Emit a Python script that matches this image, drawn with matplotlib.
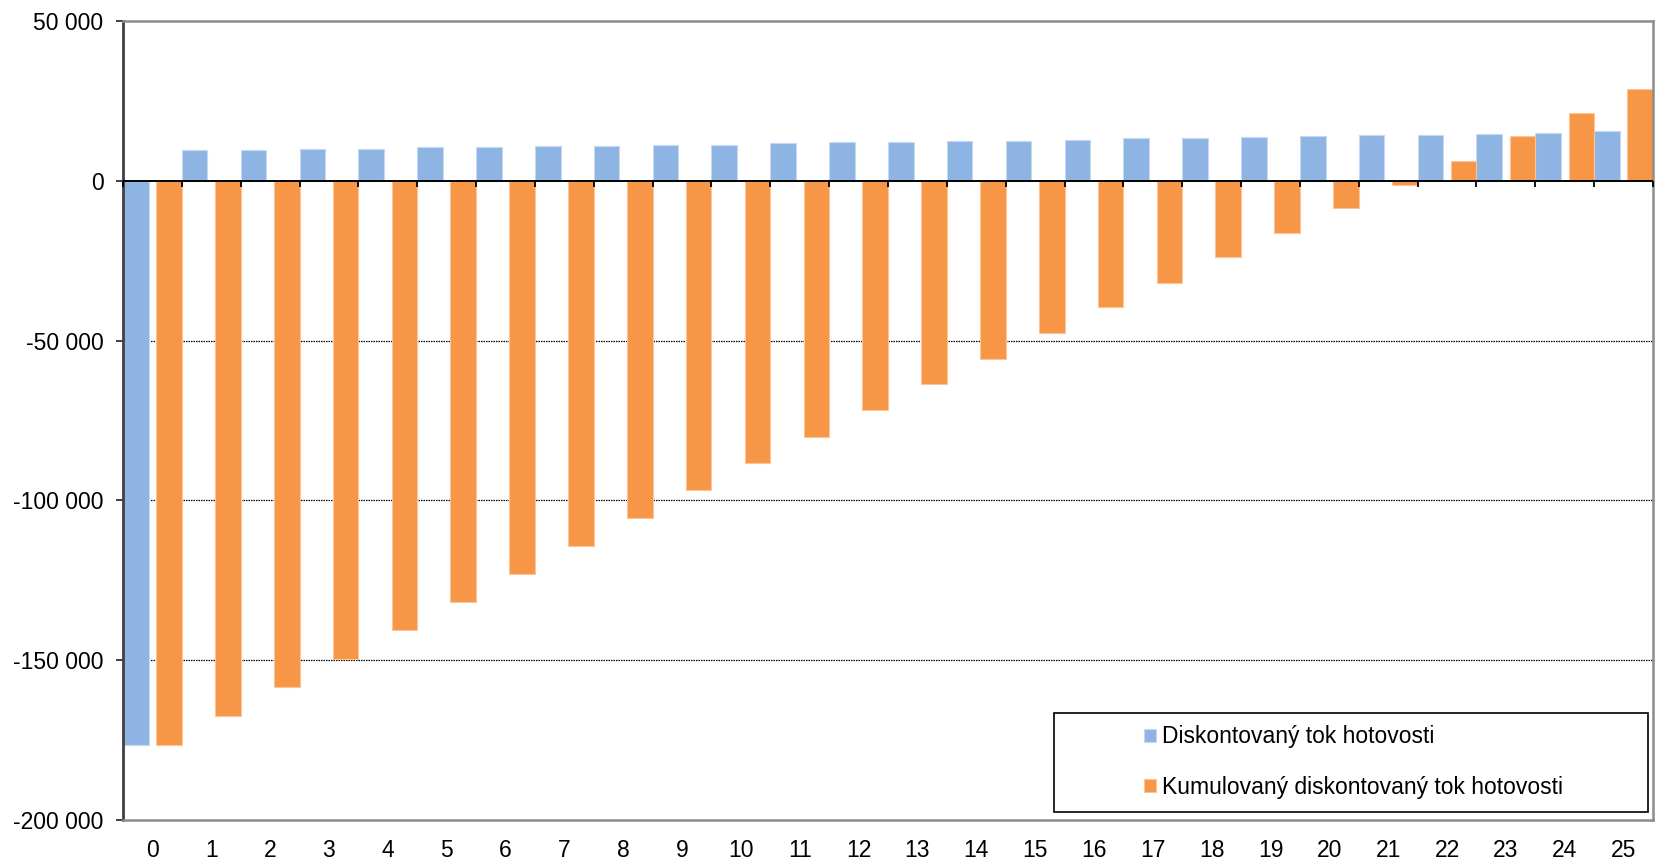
import numpy as np
import matplotlib
matplotlib.use("Agg")
import matplotlib.pyplot as plt
from matplotlib.ticker import FuncFormatter, MultipleLocator
from matplotlib.markers import TICKDOWN
from matplotlib.patches import Rectangle

plt.rcParams['font.family'] = ['Liberation Sans', 'DejaVu Sans']

# ---- data ----
years = list(range(26))
tick_labels = [str(y) for y in years]
discounted = [-176500, 9700, 9700, 10100, 10100, 10500, 10500, 11000, 11000, 11300,
              11300, 11700, 12100, 12100, 12400, 12400, 12800, 13300, 13300, 13600,
              14000, 14400, 14400, 14700, 15100, 15500]
cumulative = [-176500, -167500, -158300, -149500, -140700, -131800, -123000, -114200,
              -105500, -96800, -88400, -80200, -71800, -63700, -55700, -47500, -39600,
              -31900, -23900, -16200, -8600, -1200, 6300, 14000, 21300, 28600]
series_names = ["Diskontovaný tok hotovosti", "Kumulovaný diskontovaný tok hotovosti"]

blue = "#8EB4E3"
orange = "#F79646"
FS = 16.5

fig = plt.figure(figsize=(16.55, 8.60), dpi=100)
ax = fig.add_axes([123 / 1655, 40 / 860, (1653 - 123) / 1655, (821 - 22) / 860])

x = np.arange(len(years))
w = 1 / 2.3  # gap width 0, overlap -30 %
b1 = ax.bar(x - 0.5 + w / 2, discounted, width=w, color=blue, edgecolor="#C6D9F1",
            linewidth=0.8, zorder=2, label=series_names[0])
b2 = ax.bar(x + 0.5 - w / 2, cumulative, width=w, color=orange, edgecolor="#FAC59A",
            linewidth=0.8, zorder=2, label=series_names[1])

ax.set_xlim(-0.5, len(years) - 0.5)
ax.set_ylim(-200000, 50000)
ax.yaxis.set_major_locator(MultipleLocator(50000))
ax.yaxis.set_major_formatter(FuncFormatter(lambda v, p: f"{int(round(v)):,}".replace(",", " ")))

ax.set_xticks(x)
ax.set_xticklabels(tick_labels)
ax.tick_params(axis='x', length=0, pad=14, labelsize=FS, colors='black')
ax.tick_params(axis='y', length=5, width=1.3, pad=9, labelsize=FS, direction='out',
               colors='#333333', labelcolor='black')

# gridlines (dotted) at inner major ticks
for v in [-50000, -100000, -150000]:
    ax.axhline(v, color='black', linestyle=(0, (1.2, 0.8)), linewidth=0.9, zorder=1)

# spines
ax.spines['left'].set_color('#404040')
ax.spines['left'].set_linewidth(2.0)
for s in ['top', 'bottom', 'right']:
    ax.spines[s].set_color('#8C8C8C')
    ax.spines[s].set_linewidth(1.8)

# zero axis line with category boundary ticks
ax.axhline(0, color='black', linewidth=1.4, zorder=3)
bounds = np.arange(len(years) + 1) - 0.5
ax.plot(bounds, np.zeros_like(bounds), linestyle='none', marker=TICKDOWN,
        markersize=4.5, markeredgewidth=1.3, color='black', zorder=3, clip_on=False)

# legend box
fig.patches.append(Rectangle((1054 / 1655, 1 - 812 / 860), (1648 - 1054) / 1655, (812 - 713) / 860,
                             transform=fig.transFigure, facecolor='white', edgecolor='black',
                             linewidth=1.2, zorder=5))
leg = fig.legend(handles=[b1, b2], labels=series_names, loc='center left',
                 bbox_to_anchor=(1133 / 1655, 1 - 762 / 860), frameon=False,
                 fontsize=FS, handlelength=0.5, handleheight=0.5, handletextpad=0.25,
                 labelspacing=1.2, borderpad=0)
leg.set_zorder(6)

fig.savefig("out.png", dpi=100)
